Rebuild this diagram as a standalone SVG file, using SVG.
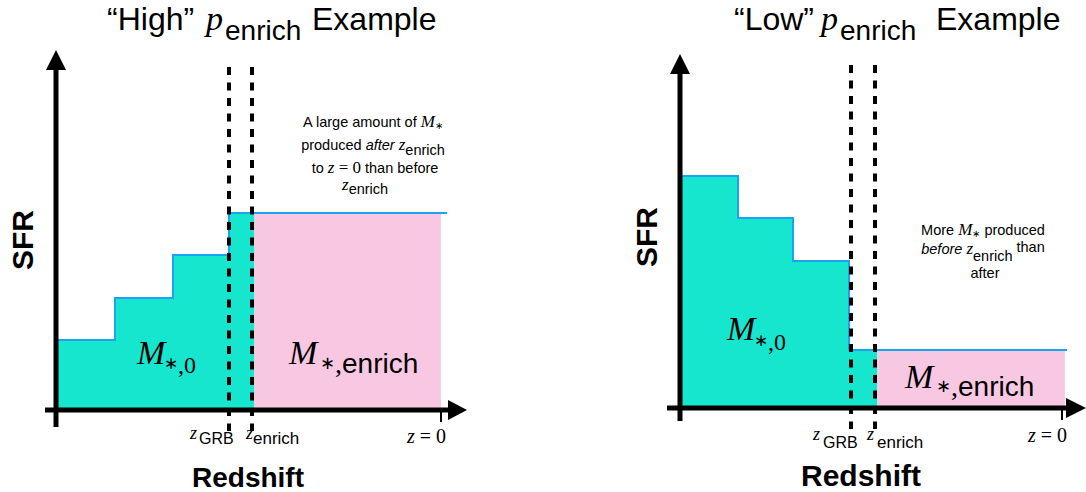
<svg xmlns="http://www.w3.org/2000/svg" width="1086" height="492" viewBox="0 0 1086 492">
<style>
.sans{font-family:"Liberation Sans",Arial,sans-serif;fill:#000}
.ser{font-family:"Liberation Serif","Times New Roman",serif;fill:#000}
.it{font-style:italic}
.teal{fill:#17E6CF}
.pink{fill:#F8C8E2}
.blue{fill:none;stroke:#1AA3F5;stroke-width:2}
.axis{stroke:#000;stroke-width:5;fill:none}
.dash{stroke:#000;stroke-width:4;stroke-dasharray:8 7.5;fill:none}
.tick{stroke:#000;stroke-width:2}
.title{font-size:32px}
.note{font-size:14.5px}
.bold{font-weight:bold}
</style>
<rect width="1086" height="492" fill="#fff"/>

<g id="left-panel">
  <polygon class="teal" points="57,410 57,340 115,340 115,298 173,298 173,255 229,255 229,213 254,213 254,410"/>
  <rect class="pink" x="254" y="213" width="187" height="197"/>
  <polyline class="blue" points="57,340 115,340 115,298 173,298 173,255 229,255 229,213 447,213"/>
  <line class="dash" x1="229" y1="67" x2="229" y2="431"/>
  <line class="dash" x1="252" y1="67" x2="252" y2="431"/>
  <line class="axis" x1="56" y1="68" x2="56" y2="427"/>
  <polygon points="46,70 66,70 56,50" fill="#000"/>
  <line class="axis" x1="45" y1="410" x2="450" y2="410"/>
  <polygon points="448,400 448,420 467,410" fill="#000"/>
  <line class="tick" x1="441" y1="410" x2="441" y2="422"/>

  <text class="sans title" x="107" y="30">“High”</text>
  <text class="ser it" x="206" y="30" font-size="34">p</text>
  <text class="sans" x="225" y="40" font-size="28">enrich</text>
  <text class="sans title" x="312" y="30">Example</text>

  <text class="sans note" text-anchor="middle">
    <tspan x="375" y="127">A large amount of <tspan class="ser it" font-size="17">M</tspan><tspan class="ser" font-size="10" dy="2">∗</tspan></tspan>
    <tspan x="375" y="150">produced <tspan class="it">after</tspan> <tspan class="ser it" font-size="17">z</tspan><tspan dy="5">enrich</tspan></tspan>
    <tspan x="375" y="173">to <tspan class="ser it" font-size="17">z</tspan><tspan class="ser" font-size="17"> = 0</tspan> than before</tspan>
  </text>
  <text class="sans note" x="342" y="190"><tspan class="ser it" font-size="17">z</tspan><tspan dy="4">enrich</tspan></text>

  <text class="ser it" x="137" y="364" font-size="34">M</text>
  <text class="ser" x="164" y="373" font-size="24"><tspan font-size="17" dy="-4">∗</tspan><tspan dy="4">,0</tspan></text>
  <text class="ser it" x="289" y="364" font-size="34">M</text>
  <text x="320" y="373" font-size="28"><tspan class="ser" font-size="18" dy="-4">∗</tspan><tspan class="ser" dy="4">,</tspan><tspan class="sans">enrich</tspan></text>

  <text class="ser it" x="190" y="439" font-size="18">z</text>
  <text class="sans" x="199" y="444" font-size="16">GRB</text>
  <text class="ser it" x="246" y="439" font-size="18">z</text>
  <text class="sans" x="253" y="444" font-size="17">enrich</text>
  <text class="ser" x="407" y="443" font-size="20"><tspan class="it">z</tspan> = 0</text>

  <text class="sans bold" x="248" y="487" font-size="28" text-anchor="middle">Redshift</text>
  <text class="sans bold" transform="translate(33,240) rotate(-90)" font-size="30" text-anchor="middle">SFR</text>
</g>

<g id="right-panel">
  <polygon class="teal" points="681,408 681,176 738,176 738,218 793,218 793,261 849,261 849,350 877,350 877,408"/>
  <rect class="pink" x="877" y="350" width="188" height="58"/>
  <polyline class="blue" points="681,176 738,176 738,218 793,218 793,261 849,261 849,350 1067,350"/>
  <line class="dash" x1="851" y1="65" x2="851" y2="429"/>
  <line class="dash" x1="875" y1="65" x2="875" y2="429"/>
  <line class="axis" x1="680" y1="72" x2="680" y2="421"/>
  <polygon points="670,74 690,74 680,54" fill="#000"/>
  <line class="axis" x1="667" y1="408" x2="1068" y2="408"/>
  <polygon points="1066,398 1066,418 1086,408" fill="#000"/>
  <line class="tick" x1="1062" y1="408" x2="1062" y2="420"/>

  <text class="sans title" x="734" y="30">“Low”</text>
  <text class="ser it" x="821" y="30" font-size="34">p</text>
  <text class="sans" x="840" y="40" font-size="28">enrich</text>
  <text class="sans title" x="936" y="30">Example</text>

  <text class="sans note" text-anchor="middle">
    <tspan x="985" y="235">More <tspan class="ser it" font-size="17">M</tspan><tspan class="ser" font-size="10" dy="2">∗</tspan><tspan dy="-2"> produced</tspan></tspan>
    <tspan x="985" y="254"><tspan class="it">before</tspan> <tspan class="ser it" font-size="17">z</tspan><tspan dy="7">enrich</tspan><tspan dy="-9"> than</tspan></tspan>
    <tspan x="985" y="278">after</tspan>
  </text>

  <text class="ser it" x="727" y="340" font-size="34">M</text>
  <text class="ser" x="754" y="350" font-size="24"><tspan font-size="17" dy="-4">∗</tspan><tspan dy="4">,0</tspan></text>
  <text class="ser it" x="905" y="388" font-size="34">M</text>
  <text x="936" y="396" font-size="28"><tspan class="ser" font-size="18" dy="-4">∗</tspan><tspan class="ser" dy="4">,</tspan><tspan class="sans">enrich</tspan></text>

  <text class="ser it" x="813" y="440" font-size="18">z</text>
  <text class="sans" x="823" y="448" font-size="16">GRB</text>
  <text class="ser it" x="867" y="440" font-size="18">z</text>
  <text class="sans" x="877" y="448" font-size="17">enrich</text>
  <text class="ser" x="1028" y="442" font-size="20"><tspan class="it">z</tspan> = 0</text>

  <text class="sans bold" x="861" y="486" font-size="30" text-anchor="middle">Redshift</text>
  <text class="sans bold" transform="translate(657,237) rotate(-90)" font-size="30" text-anchor="middle">SFR</text>
</g>
</svg>
